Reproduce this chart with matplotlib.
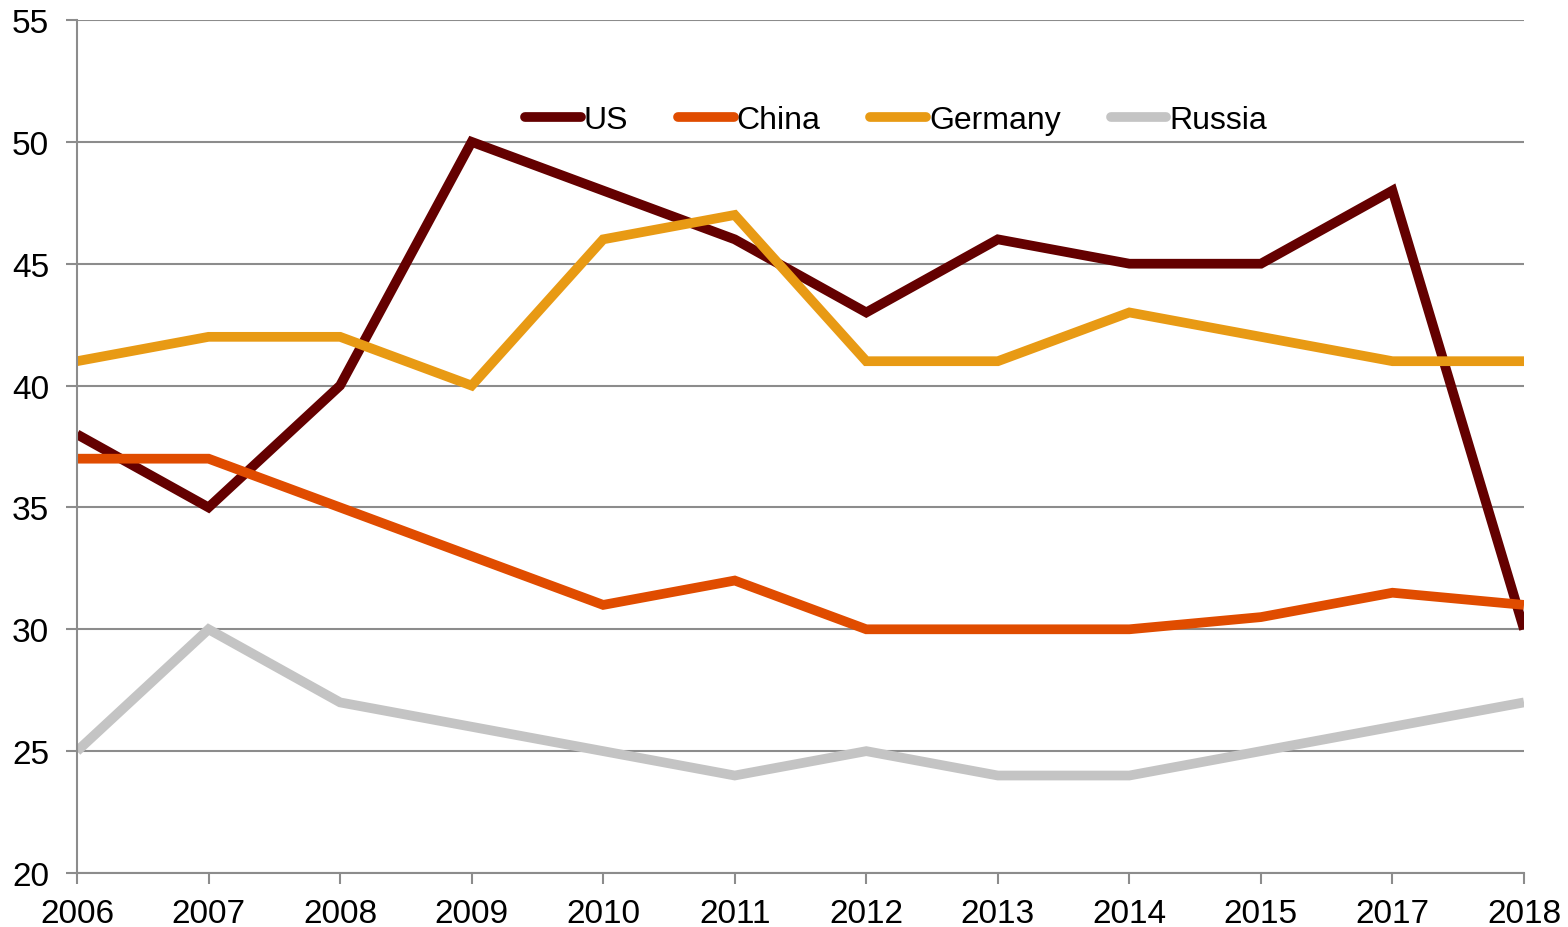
import matplotlib
matplotlib.use("Agg")
import matplotlib.pyplot as plt

years = ["2006", "2007", "2008", "2009", "2010", "2011", "2012", "2013", "2014", "2015", "2017", "2018"]
us = [38, 35, 40, 50, 48, 46, 43, 46, 45, 45, 48, 30]
china = [37, 37, 35, 33, 31, 32, 30, 30, 30, 30.5, 31.5, 31]
germany = [41, 42, 42, 40, 46, 47, 41, 41, 43, 42, 41, 41]
russia = [25, 30, 27, 26, 25, 24, 25, 24, 24, 25, 26, 27]

plt.rcParams['font.family'] = ['Liberation Sans', 'DejaVu Sans']

fig = plt.figure(figsize=(15.68, 9.28), dpi=100)
ax = fig.add_axes([77/1568, (928-874)/928, (1524-77)/1568, (874-21)/928])

x = list(range(len(years)))
series = [("US", us, "#640000"), ("China", china, "#E04C00"),
          ("Germany", germany, "#E89A14"), ("Russia", russia, "#C4C4C4")]
for name, vals, c in series:
    ax.plot(x, vals, color=c, lw=7, label=name, solid_capstyle='butt', solid_joinstyle='miter')

ax.set_xlim(0, len(years) - 1)
ax.set_ylim(20, 55)
ax.set_yticks(range(20, 56, 5))
ax.set_xticks(x)
ax.set_xticklabels(years)
ax.yaxis.grid(True, color="#8C8C8C", lw=1.5)
ax.set_axisbelow(True)
for s in ["top", "right"]:
    ax.spines[s].set_visible(False)
for s in ["left", "bottom"]:
    ax.spines[s].set_color("#8C8C8C")
    ax.spines[s].set_linewidth(1.5)
ax.tick_params(axis='both', colors="#8C8C8C", width=1.5, length=8, labelsize=24, labelcolor="black")
ax.tick_params(axis='x', pad=10)
ax.tick_params(axis='y', pad=12)

leg = ax.legend(loc='center', bbox_to_anchor=(0.566, 0.883), ncol=4, frameon=False,
                fontsize=23, handlelength=1.75, handletextpad=0.1, columnspacing=1.55)
for h in leg.get_lines():
    h.set_solid_capstyle('round')

fig.savefig("out.png", dpi=100)
